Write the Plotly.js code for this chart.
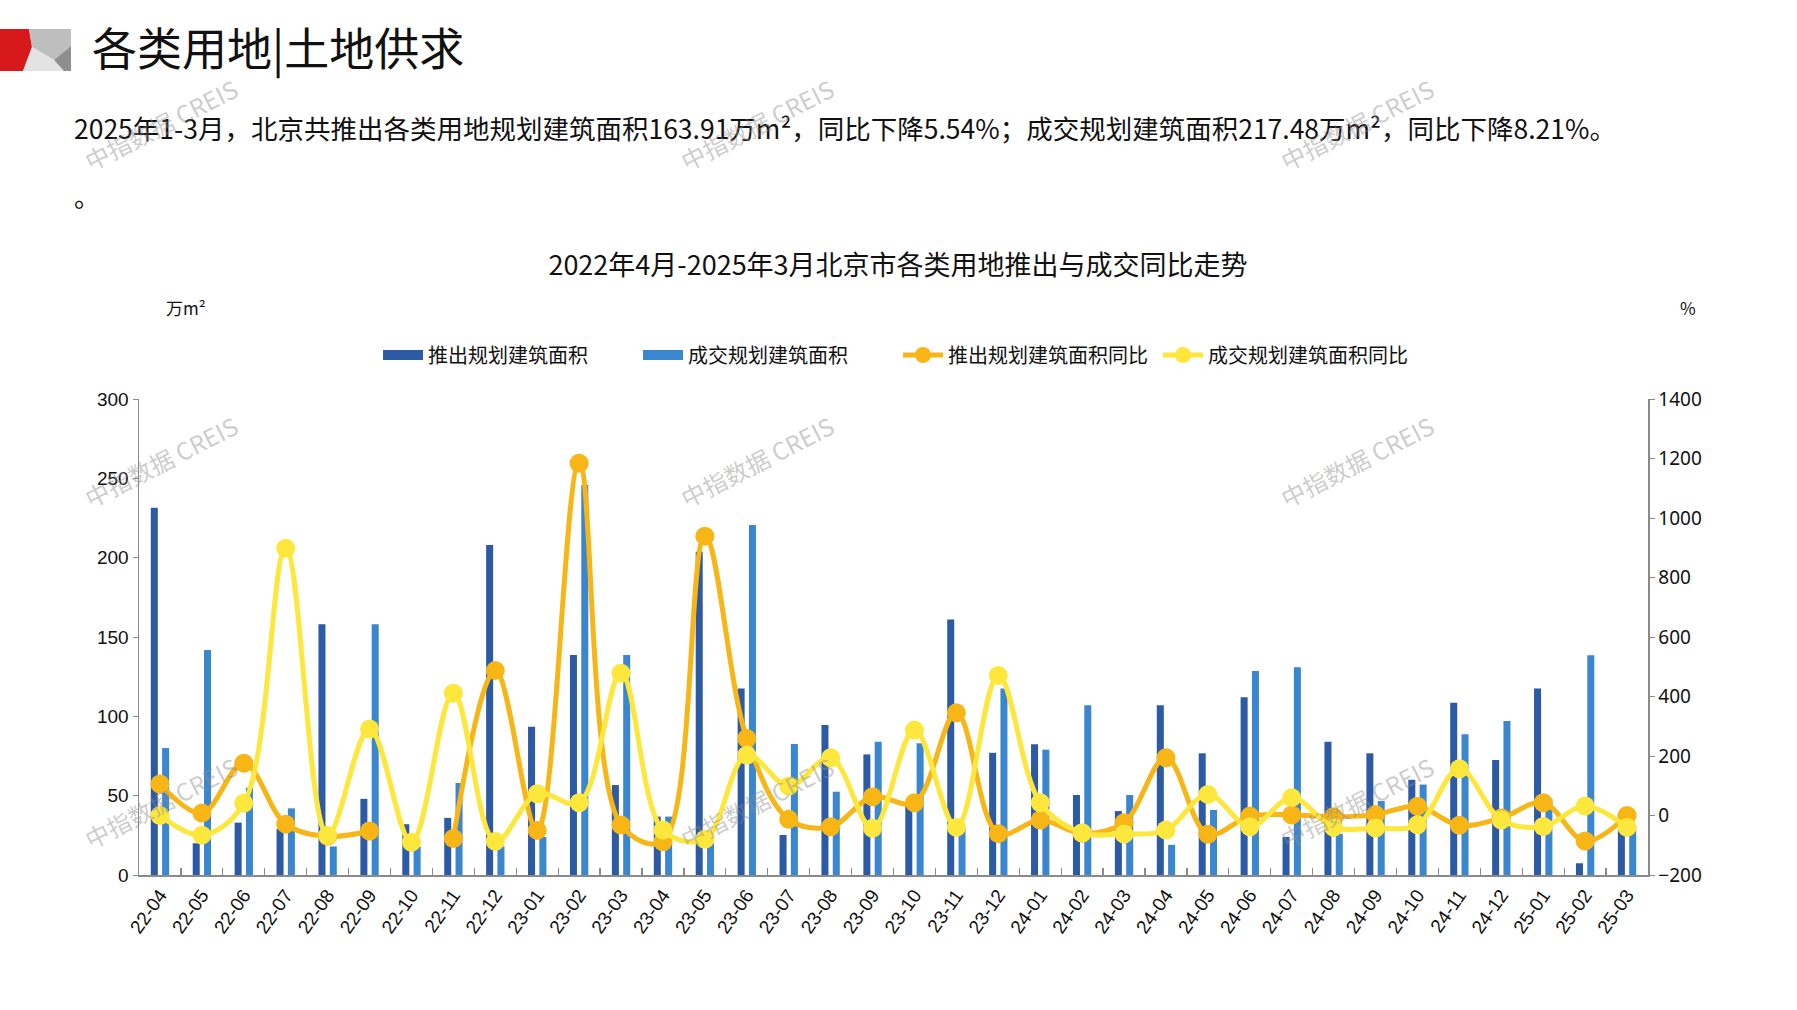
<!DOCTYPE html>
<html>
<head>
<meta charset="utf-8">
<script src="https://cdn.plot.ly/plotly-3.0.1.min.js"></script>
<style>
html,body{margin:0;padding:0;background:#fff;}
#chart{width:1797px;height:1010px;}
</style>
</head>
<body>
<div id="chart"></div>
<script>
// ---- data ----
const categories = ['22-04','22-05','22-06','22-07','22-08','22-09','22-10','22-11','22-12',
  '23-01','23-02','23-03','23-04','23-05','23-06','23-07','23-08','23-09','23-10','23-11','23-12',
  '24-01','24-02','24-03','24-04','24-05','24-06','24-07','24-08','24-09','24-10','24-11','24-12',
  '25-01','25-02','25-03'];
const supplyArea = [231.5,20,33,29,158,48,32,36,208,
  93.5,138.7,56.7,36.8,203.8,117.6,25.2,94.5,76,45,161,77,
  82.4,50.4,40.3,107,76.7,112,24,84,76.7,60,108.6,72.5,
  117.6,7.4,38.9];
const dealArea = [80,141.8,55,42,18,158,18,58,18,
  24,245.8,138.7,36.8,20,220.6,82.6,52.5,84,83,30,117.6,
  79,107,50.4,19,41,128.6,131,26,46.6,57,88.7,97,
  48,138.5,31];
const supplyYoY = [106,8,176,-29,-70,-52,null,-77,487,
  -50,1184,-32,-88,939,259,-13,-38,63,43,345,-61,
  -15,-60,-24,194,-63,-2,2,-4,3,31,-33,-8,
  43,-86,0];
const dealYoY = [0,-66,41,898,-67,291,-90,411,-87,
  73,43,478,-49,-80,203,99,194,-43,287,-40,471,
  43,-58,-62,-49,71,-38,60,-40,-42,-31,157,-15,
  -37,32,-40];
const seriesNames = ['推出规划建筑面积','成交规划建筑面积','推出规划建筑面积同比','成交规划建筑面积同比'];

// ---- styles ----
const C_DARK = '#2D5AA4', C_LIGHT = '#3A86CF', C_ORANGE = '#F8B616', C_YELLOW = '#FDE73C';
const CJK = 'Noto Sans CJK SC';
const AXC = '#8a8a8a';

// plot area in pixels
const PL = 139, PR = 1648, PT = 399, PB = 875;
const X = px => (px - PL) / (PR - PL);
const Y = py => (PB - py) / (PB - PT);

function poly(pts, color) {
  return {type:'path', xref:'paper', yref:'paper', layer:'above',
    path: 'M' + pts.map(p => X(p[0]) + ',' + Y(p[1])).join('L') + 'Z',
    fillcolor: color, line:{width:0}};
}

const traces = [
  // legend-only swatches (wide rectangles like the original legend)
  {type:'scatter', mode:'lines', name:seriesNames[0], x:[null], y:[null], line:{color:C_DARK, width:16}, hoverinfo:'skip'},
  {type:'scatter', mode:'lines', name:seriesNames[1], x:[null], y:[null], line:{color:C_LIGHT, width:16}, hoverinfo:'skip'},
  {type:'bar', name:seriesNames[0], x:categories, y:supplyArea, marker:{color:C_DARK}, showlegend:false, hoverinfo:'skip'},
  {type:'bar', name:seriesNames[1], x:categories, y:dealArea, marker:{color:C_LIGHT}, showlegend:false, hoverinfo:'skip'},
  {type:'scatter', mode:'lines+markers', name:seriesNames[2], x:categories, y:supplyYoY, yaxis:'y2',
    connectgaps:false, line:{color:C_ORANGE, width:5, shape:'spline', smoothing:1},
    marker:{color:C_ORANGE, size:19}, hoverinfo:'skip'},
  {type:'scatter', mode:'lines+markers', name:seriesNames[3], x:categories, y:dealYoY, yaxis:'y2',
    connectgaps:false, line:{color:C_YELLOW, width:5, shape:'spline', smoothing:1},
    marker:{color:C_YELLOW, size:19}, hoverinfo:'skip'}
];

const wm = [[160,124],[756,124],[1356,124],[160,461],[756,461],[1356,461],[160,802],[756,802],[1356,802]];
const annotations = [
  {xref:'paper', yref:'paper', x:X(90), y:Y(46), xanchor:'left', yanchor:'middle', showarrow:false,
    text:'各类用地|土地供求', font:{family:CJK, size:45, color:'#111'}},
  {xref:'paper', yref:'paper', x:X(72), y:Y(127), xanchor:'left', yanchor:'middle', showarrow:false,
    text:'2025年1-3月，北京共推出各类用地规划建筑面积163.91万m²，同比下降5.54%；成交规划建筑面积217.48万m²，同比下降8.21%。',
    font:{family:CJK, size:26.5, color:'#111'}},
  {xref:'paper', yref:'paper', x:X(72), y:Y(196), xanchor:'left', yanchor:'middle', showarrow:false,
    text:'。', font:{family:CJK, size:26, color:'#111'}},
  {xref:'paper', yref:'paper', x:X(186), y:Y(307), xanchor:'center', yanchor:'middle', showarrow:false,
    text:'万m²', font:{family:CJK, size:17, color:'#111'}},
  {xref:'paper', yref:'paper', x:X(1688), y:Y(307), xanchor:'center', yanchor:'middle', showarrow:false,
    text:'%', font:{family:CJK, size:17, color:'#111'}}
];
wm.forEach(p => annotations.push({xref:'paper', yref:'paper', x:X(p[0]), y:Y(p[1]),
  xanchor:'center', yanchor:'middle', showarrow:false, textangle:-27,
  text:'中指数据 CREIS', font:{family:'Noto Sans CJK SC', size:24, color:'rgba(140,140,140,0.45)'}}));

const shapes = [
  poly([[0,29],[29,29],[32,47],[23,71],[0,71]], '#D7191C'),
  poly([[29,29],[71,29],[71,46],[54,60],[32,47]], '#BEBEBE'),
  poly([[32,47],[54,60],[64,71],[23,71]], '#E3E3E3'),
  poly([[54,60],[71,46],[71,71],[64,71]], '#8E8E8E')
];

const layout = {
  width:1797, height:1010,
  margin:{l:PL, r:1797-PR, t:PT, b:1010-PB, pad:0},
  paper_bgcolor:'#fff', plot_bgcolor:'#fff',
  barmode:'group', bargap:0.46, bargroupgap:0.38,
  title:{text:'2022年4月-2025年3月北京市各类用地推出与成交同比走势', xref:'container', yref:'container',
    x:898/1797, y:1-266/1010, xanchor:'center', yanchor:'middle',
    font:{family:CJK, size:27, color:'#111'}},
  showlegend:true,
  legend:{orientation:'h', x:0.503, xanchor:'center', y:Y(355), yanchor:'middle',
    font:{family:CJK, size:20, color:'#111'}, itemwidth:40, traceorder:'normal',
    entrywidth:205, entrywidthmode:'pixels', bgcolor:'rgba(0,0,0,0)'},
  xaxis:{type:'category', range:[-0.5,35.5], showline:true, linecolor:AXC, linewidth:1.5,
    ticks:'inside', ticklen:7, tickcolor:AXC, tickwidth:1.2, tickson:'boundaries',
    tickangle:-55, tickfont:{family:'Liberation Sans', size:19, color:'#111'},
    showgrid:false, zeroline:false, automargin:false, fixedrange:true},
  yaxis:{range:[0,300], tick0:0, dtick:50, showline:true, linecolor:AXC, linewidth:1.5,
    ticks:'outside', ticklen:5, tickcolor:AXC, tickfont:{family:'Liberation Sans', size:19, color:'#111'},
    showgrid:false, zeroline:false, automargin:false, fixedrange:true},
  yaxis2:{overlaying:'y', side:'right', range:[-200,1400], tick0:-200, dtick:200, showline:true,
    linecolor:AXC, linewidth:1.5, ticks:'outside', ticklen:5, tickcolor:AXC,
    tickfont:{family:'Noto Sans', size:19, color:'#111'},
    showgrid:false, zeroline:false, automargin:false, fixedrange:true},
  annotations: annotations,
  shapes: shapes
};

Plotly.newPlot('chart', traces, layout, {displayModeBar:false, staticPlot:true});
</script>
</body>
</html>
